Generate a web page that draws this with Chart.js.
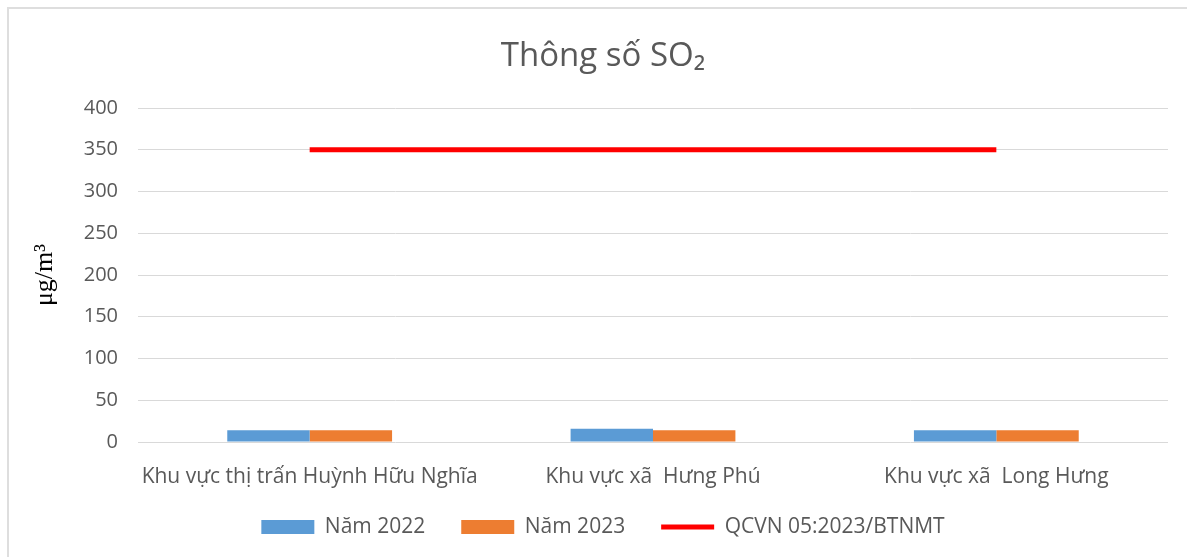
<!DOCTYPE html>
<html>
<head>
<meta charset="utf-8">
<script src="https://cdn.jsdelivr.net/npm/chart.js@4.4.1/dist/chart.umd.min.js"></script>
<style>
  html, body { margin: 0; padding: 0; background: #ffffff; }
  #wrap { width: 1187px; height: 557px; position: relative; }
</style>
</head>
<body>
<div id="wrap"><canvas id="c"></canvas></div>
<script>
const categories = ["Khu vực thị trấn Huỳnh Hữu Nghĩa", "Khu vực xã  Hưng Phú", "Khu vực xã  Long Hưng"];
const nam2022 = [14, 16, 14];
const nam2023 = [14, 14, 14];
const qcvn = [350, 350, 350];
const yTicks = [0, 50, 100, 150, 200, 250, 300, 350, 400];

const FONT = "'Open Sans', Lato, sans-serif";
const TXT = "#595959";

new Chart(document.getElementById('c'), {
  data: {
    labels: categories,
    datasets: [
      { type: 'line', label: 'QCVN 05:2023/BTNMT', data: qcvn, borderColor: '#ff0000', backgroundColor: '#ff0000',
        borderWidth: 5, pointRadius: 0, pointHoverRadius: 0, order: 0 },
      { type: 'bar', label: 'Năm 2022', data: nam2022, backgroundColor: '#5b9bd5', barPercentage: 1, categoryPercentage: 0.48, order: 1 },
      { type: 'bar', label: 'Năm 2023', data: nam2023, backgroundColor: '#ed7d31', barPercentage: 1, categoryPercentage: 0.48, order: 1 }
    ]
  },
  options: {
    responsive: true,
    maintainAspectRatio: false,
    animation: false,
    layout: { padding: { left: 38, right: 19, top: 0, bottom: 9.5 } },
    plugins: {
      title: { display: true, text: 'Thông số SO₂', color: TXT, font: { family: FONT, size: 33, weight: 'normal' }, padding: { top: 37, bottom: 31.4 } },
      tooltip: { enabled: false },
      legend: {
        position: 'bottom',
        labels: {
          color: TXT,
          font: { family: FONT, size: 21 },
          boxWidth: 53, boxHeight: 14, padding: 36,
          generateLabels: (chart) => {
            const order = [1, 2, 0];
            return order.map(i => {
              const ds = chart.data.datasets[i];
              const isLine = ds.type === 'line';
              return {
                text: ds.label, datasetIndex: i,
                fillStyle: isLine ? 'rgba(0,0,0,0)' : ds.backgroundColor,
                strokeStyle: ds.borderColor || ds.backgroundColor,
                lineWidth: 0, fontColor: TXT, hidden: false,
                pointStyle: isLine ? 'line' : 'rect'
              };
            });
          }
        }
      }
    },
    scales: {
      x: {
        grid: { display: false },
        border: { display: false },
        ticks: { color: TXT, font: { family: FONT, size: 21 }, padding: 14, maxRotation: 0, autoSkip: false },
        afterFit: (s) => { s.height = 38.5; s._computeLabelArea = () => undefined; }
      },
      y: {
        min: 0, max: 400,
        afterBuildTicks: (s) => { s.ticks = yTicks.map(v => ({ value: v })); },
        grid: { color: '#d9d9d9', lineWidth: 1, drawTicks: false },
        border: { display: false },
        ticks: { color: TXT, font: { family: FONT, size: 20 }, padding: 20 },
        title: { display: true, text: 'μg/m³', color: '#000', font: { family: "'Liberation Serif', serif", size: 26 }, padding: { top: -8.6, bottom: 0 } },
        afterFit: (s) => { s.width = 100; }
      }
    }
  },
  plugins: [{
    id: 'frameAndLegendLine',
    beforeDraw(chart) {
      const ctx = chart.ctx;
      ctx.save();
      ctx.strokeStyle = '#dedede';
      ctx.lineWidth = 2;
      ctx.beginPath();
      ctx.moveTo(8, chart.height);
      ctx.lineTo(8, 8);
      ctx.lineTo(chart.width, 8);
      ctx.stroke();
      ctx.restore();
    },
    afterDraw(chart) {
      const lg = chart.legend;
      if (!lg || !lg.legendHitBoxes) return;
      lg.legendItems.forEach((it, k) => {
        if (it.pointStyle !== 'line') return;
        const hb = lg.legendHitBoxes[k];
        const ctx = chart.ctx;
        ctx.save();
        ctx.strokeStyle = it.strokeStyle;
        ctx.lineWidth = 5;
        ctx.beginPath();
        const cy = hb.top + hb.height / 2;
        ctx.moveTo(hb.left, cy);
        ctx.lineTo(hb.left + 53, cy);
        ctx.stroke();
        ctx.restore();
      });
    }
  }]
});
</script>
</body>
</html>
